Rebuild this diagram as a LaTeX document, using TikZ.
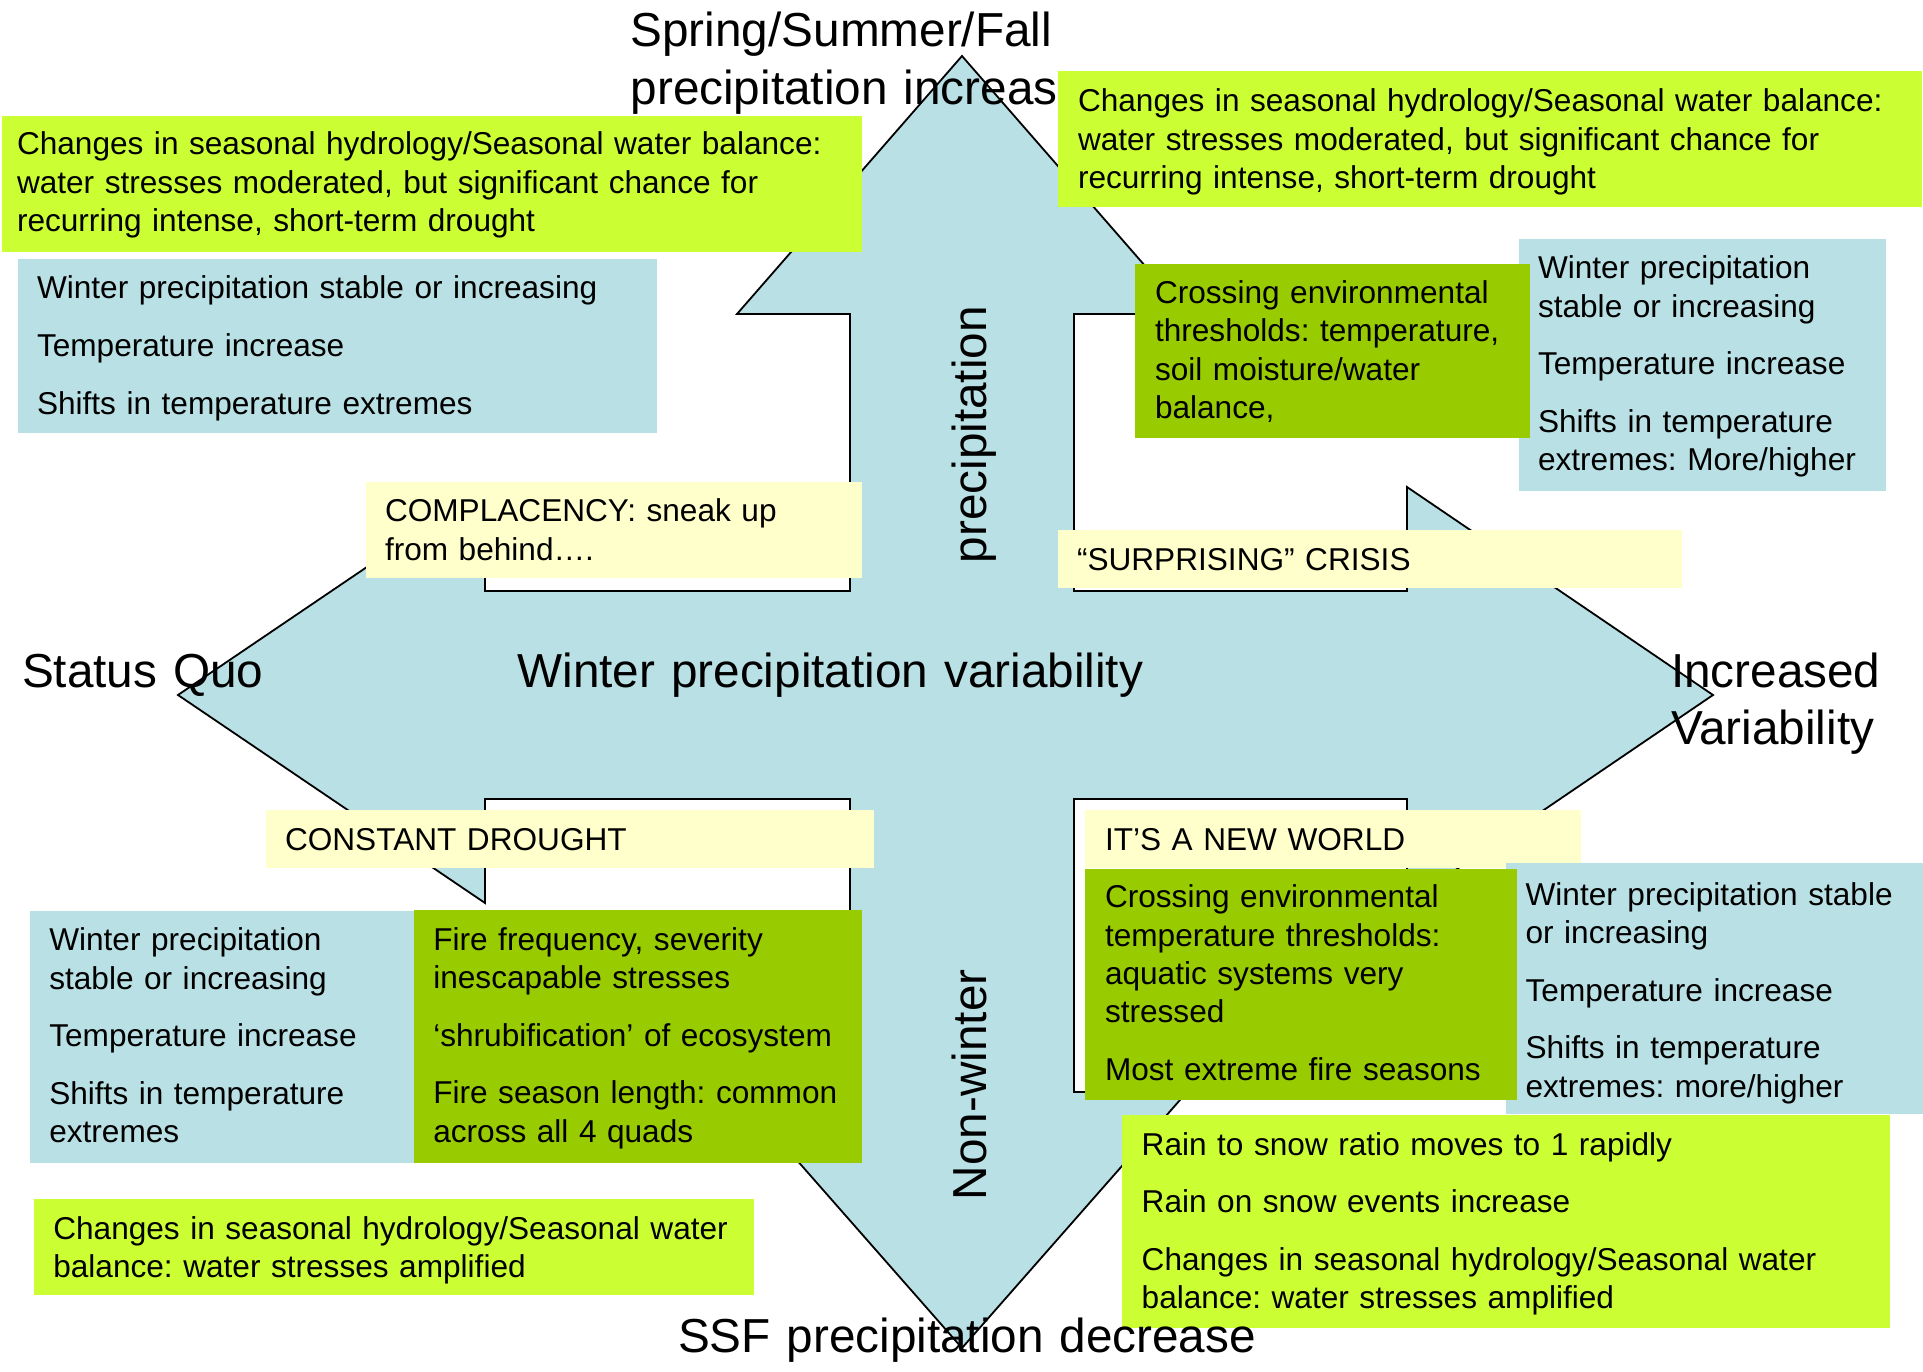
\documentclass[tikz,border=0pt]{standalone}
\usepackage{fontspec}
\setmainfont{Liberation Sans}
\frenchspacing
\definecolor{boxblue}{RGB}{185,224,228}
\definecolor{boxlime}{RGB}{204,255,51}
\definecolor{boxleaf}{RGB}{153,204,0}
\definecolor{boxcream}{RGB}{255,255,204}
\tikzset{
  panel/.style={draw=none, inner sep=0pt, outer sep=0pt, anchor=north west},
  bodytext/.style={font=\fontsize{31.6}{38.4}\selectfont, inner sep=0pt, outer sep=0pt,
    anchor=north west, yshift=26.88pt, align=left, text width=#1},
  bodytext/.default=600pt,
  headtext/.style={font=\fontsize{47.7}{57.6}\selectfont, inner sep=0pt, outer sep=0pt,
    anchor=north west, yshift=40.32pt, align=left, text width=#1},
  headtext/.default=600pt,
  axislabel/.style={font=\fontsize{47.7}{57.6}\selectfont, inner sep=0pt, outer sep=0pt,
    anchor=base west, rotate=90},
  quad/.style={fill=boxblue, draw=black, line width=1.8pt, line join=miter}
}
\begin{document}
\begin{tikzpicture}[x=1pt,y=-1pt]
\useasboundingbox (0,0) rectangle (1923,1372);

% four-headed arrow forming the two axes
\draw[quad] (962,56) -- (1187,314) -- (1074,314) -- (1074,591) -- (1407,591)
  -- (1407,487) -- (1713,695) -- (1407,903) -- (1407,799) -- (1074,799)
  -- (1074,1092) -- (1187,1092) -- (962,1348) -- (737,1092) -- (850,1092)
  -- (850,799) -- (485,799) -- (485,903) -- (178,695) -- (485,487)
  -- (485,591) -- (850,591) -- (850,314) -- (737,314) -- cycle;

% axis labels
\node[headtext=500pt] (topAxis) at (630.6,46.7) {\strut Spring/Summer/Fall\\precipitation increase};
\node[headtext=260pt] (leftAxis) at (22,687) {\strut Status Quo};
\node[headtext=700pt] (hAxis) at (517.5,687) {\strut Winter precipitation variability};
\node[headtext=250pt] (rightAxis) at (1671,687) {\strut Increased\\Variability};
\node[axislabel] (vAxisUp) at (986.7,563.3) {precipitation};
\node[axislabel] (vAxisDown) at (986.7,1200) {Non-winter};

% upper left quadrant
\node[panel, fill=boxlime, minimum width=860pt, minimum height=136pt] (tlLime) at (2,116) {};
\node[bodytext=840pt] (tlLimeText) at (17,155) {\strut Changes in seasonal hydrology/Seasonal water balance:\\water stresses moderated, but significant chance for\\recurring intense, short-term drought};
\node[panel, fill=boxblue, minimum width=639pt, minimum height=174pt] (tlBlue) at (18,259) {};
\node[bodytext=615pt] (tlBlueText) at (37,299) {\strut Winter precipitation stable or increasing\\[19.2pt]Temperature increase\\[19.2pt]Shifts in temperature extremes};

% upper right quadrant
\node[panel, fill=boxlime, minimum width=864pt, minimum height=136pt] (trLime) at (1058,71) {};
\node[bodytext=840pt] (trLimeText) at (1078,112) {\strut Changes in seasonal hydrology/Seasonal water balance:\\water stresses moderated, but significant chance for\\recurring intense, short-term drought};
\node[panel, fill=boxblue, minimum width=367pt, minimum height=252pt] (trBlue) at (1519,239) {};
\node[bodytext=348pt] (trBlueText) at (1538,279) {\strut Winter precipitation\\stable or increasing\\[19.2pt]Temperature increase\\[19.2pt]Shifts in temperature\\extremes: More/higher};
\node[panel, fill=boxleaf, minimum width=395pt, minimum height=174pt] (trLeaf) at (1135,264) {};
\node[bodytext=372pt] (trLeafText) at (1155,303.3) {\strut Crossing environmental\\thresholds: temperature,\\soil moisture/water\\balance,};

% scenario names
\node[panel, fill=boxcream, minimum width=496pt, minimum height=96pt] (complacency) at (366,481.5) {};
\node[bodytext=477pt] (complacencyText) at (385,521.7) {\strut COMPLACENCY: sneak up\\from behind….};
\node[panel, fill=boxcream, minimum width=624pt, minimum height=58pt] (crisis) at (1058,529.5) {};
\node[bodytext=604pt] (crisisText) at (1077,570) {\strut “SURPRISING” CRISIS};
\node[panel, fill=boxcream, minimum width=608pt, minimum height=58pt] (drought) at (266,809.5) {};
\node[bodytext=588pt] (droughtText) at (285,850) {\strut CONSTANT DROUGHT};
\node[panel, fill=boxcream, minimum width=496pt, minimum height=58pt] (newWorld) at (1085,810) {};
\node[bodytext=476pt] (newWorldText) at (1105,850.7) {\strut IT’S A NEW WORLD};

% lower right quadrant
\node[panel, fill=boxblue, minimum width=417pt, minimum height=251pt] (lrBlue) at (1506,863) {};
\node[bodytext=396pt] (lrBlueText) at (1525.6,905) {\strut Winter precipitation stable\\or increasing\\[19.2pt]Temperature increase\\[19.2pt]Shifts in temperature\\extremes: more/higher};
\node[panel, fill=boxleaf, minimum width=432pt, minimum height=231pt] (lrLeaf) at (1085,869) {};
\node[bodytext=412pt] (lrLeafText) at (1105,907.7) {\strut Crossing environmental\\temperature thresholds:\\aquatic systems very\\stressed\\[19.2pt]Most extreme fire seasons};
\node[panel, fill=boxlime, minimum width=768pt, minimum height=213pt] (lrLime) at (1121.7,1115) {};
\node[bodytext=747pt] (lrLimeText) at (1141.7,1155) {\strut Rain to snow ratio moves to 1 rapidly\\[19.2pt]Rain on snow events increase\\[19.2pt]Changes in seasonal hydrology/Seasonal water\\balance: water stresses amplified};

% lower left quadrant
\node[panel, fill=boxblue, minimum width=385pt, minimum height=252pt] (llBlue) at (30,911) {};
\node[bodytext=365pt] (llBlueText) at (49.3,950.7) {\strut Winter precipitation\\stable or increasing\\[19.2pt]Temperature increase\\[19.2pt]Shifts in temperature\\extremes};
\node[panel, fill=boxleaf, minimum width=448pt, minimum height=253pt] (llLeaf) at (414,910) {};
\node[bodytext=429pt] (llLeafText) at (433.3,950) {\strut Fire frequency, severity\\inescapable stresses\\[19.2pt]‘shrubification’ of ecosystem\\[19.2pt]Fire season length: common\\across all 4 quads};
\node[panel, fill=boxlime, minimum width=720pt, minimum height=96pt] (llLime) at (34,1199) {};
\node[bodytext=700pt] (llLimeText) at (53.3,1239.5) {\strut Changes in seasonal hydrology/Seasonal water\\balance: water stresses amplified};

% bottom axis label
\node[headtext=620pt] (bottomAxis) at (678,1352) {\strut SSF precipitation decrease};
\end{tikzpicture}
\end{document}
